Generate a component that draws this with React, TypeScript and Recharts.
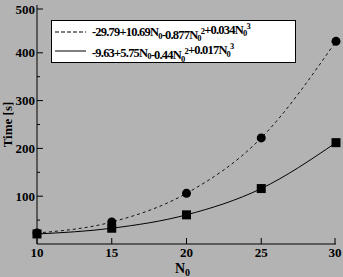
import React from "react"
import { LineChart, Line, XAxis, YAxis, Legend } from "recharts"

// values
const n0 = [10, 15, 20, 25, 30]
const fitA = [23, 46, 106, 222, 424] // dashed, circles
const fitB = [21, 33, 61, 116, 212] // solid, squares

const xTicks = [10, 15, 20, 25, 30]
const yTicks = [50, 100, 150, 200, 250, 300, 350, 400, 450, 500]
const yMajor = [100, 200, 300, 400, 500]

const data = n0.map((n, i) => ({ n, a: fitA[i], b: fitB[i] }))

const FONT = "'Liberation Serif', 'DejaVu Serif', serif"
const BG = "#b3b3b3"

const Circle = (props: any) => {
  const { cx, cy } = props
  if (cx == null || cy == null) return null
  return <circle cx={cx} cy={cy} r={4.5} fill="#000" />
}

const Square = (props: any) => {
  const { cx, cy } = props
  if (cx == null || cy == null) return null
  return <rect x={cx - 4.5} y={cy - 4.5} width={9} height={9} fill="#000" />
}

// tick renderers: tickSize/tickMargin are 0 so x,y sit on the axis line
const LeftTick = (props: any) => {
  const { x, y, payload } = props
  const major = yMajor.includes(payload.value)
  return (
    <g>
      <line x1={x} x2={x + (major ? 6 : 3)} y1={y} y2={y} stroke="#000" />
      {major && (
        <text x={x - 2} y={y + 4.5} textAnchor="end" fontSize={13} fontWeight="bold" fontFamily={FONT} fill="#000">
          {payload.value}
        </text>
      )}
    </g>
  )
}

const RightTick = (props: any) => {
  const { x, y, payload } = props
  const major = yMajor.includes(payload.value)
  return <line x1={x} x2={x - (major ? 6 : 3)} y1={y} y2={y} stroke="#000" />
}

const BottomTick = (props: any) => {
  const { x, y, payload } = props
  return (
    <g>
      <line x1={x} x2={x} y1={y} y2={y - 6} stroke="#000" />
      <text x={x} y={y + 12.5} textAnchor="middle" fontSize={13} fontWeight="bold" fontFamily={FONT} fill="#000">
        {payload.value}
      </text>
    </g>
  )
}

const TopTick = (props: any) => {
  const { x, y } = props
  return <line x1={x} x2={x} y1={y} y2={y + 6} stroke="#000" />
}

const Formula = ({ parts }: { parts: string[] }) => (
  <>
    {parts.map((p, i) => {
      if (p === "N0")
        return (
          <React.Fragment key={i}>
            <tspan>N</tspan>
            <tspan dy={2.5} fontSize={8.5}>0</tspan>
            <tspan dy={-2.5}></tspan>
          </React.Fragment>
        )
      if (p === "N02" || p === "N03")
        return (
          <React.Fragment key={i}>
            <tspan>N</tspan>
            <tspan dy={2.5} fontSize={8.5}>0</tspan>
            <tspan dy={-7.5} fontSize={8.5}>{p[2]}</tspan>
            <tspan dy={5}></tspan>
          </React.Fragment>
        )
      return <tspan key={i}>{p}</tspan>
    })}
  </>
)

const rowA = ["-29.79+10.69", "N0", "-0.877", "N02", "+0.034", "N03"]
const rowB = ["-9.63+5.75", "N0", "-0.44", "N02", "+0.017", "N03"]

const LegendBox = () => (
  <svg width={245} height={46} style={{ display: "block", overflow: "visible" }}>
    <rect x={0.5} y={0.5} width={244} height={42} fill="#fff" stroke="#000" />
    <line x1={4} x2={35} y1={12} y2={12} stroke="#000" strokeDasharray="4 2" />
    <line x1={4} x2={35} y1={31} y2={31} stroke="#000" />
    <text x={41} y={16} fontSize={12.5} fontWeight="bold" fontFamily={FONT} letterSpacing={-0.8} fill="#000">
      <Formula parts={rowA} />
    </text>
    <text x={41} y={36.5} fontSize={12.5} fontWeight="bold" fontFamily={FONT} letterSpacing={-0.8} fill="#000">
      <Formula parts={rowB} />
    </text>
  </svg>
)

export default function App() {
  return (
    <div style={{ position: "absolute", left: 0, top: 0, width: 343, height: 277, background: BG }}>
      <LineChart width={343} height={277} data={data} margin={{ top: 5, right: 7, left: 0, bottom: 0 }}>
        <XAxis
          xAxisId="bottom"
          dataKey="n"
          type="number"
          domain={[10, 30]}
          ticks={xTicks}
          height={33}
          stroke="#000"
          tickLine={false}
          tickSize={0}
          tickMargin={0}
          tick={<BottomTick />}
          label={{
            content: (p: any) => {
              const vb = p.viewBox
              return (
                <text x={vb.x + vb.width / 2 - 4} y={vb.y + 29} textAnchor="middle" fontSize={14} fontWeight="bold" fontFamily={FONT} fill="#000">
                  N<tspan dy={3} fontSize={10}>0</tspan>
                </text>
              )
            },
          }}
        />
        <XAxis
          xAxisId="top"
          orientation="top"
          dataKey="n"
          type="number"
          domain={[10, 30]}
          ticks={[15, 20, 25]}
          height={0}
          stroke="#000"
          tickLine={false}
          tickSize={0}
          tickMargin={0}
          tick={<TopTick />}
        />
        <YAxis
          yAxisId="left"
          type="number"
          domain={[0, 500]}
          ticks={yTicks}
          width={37}
          stroke="#000"
          tickLine={false}
          tickSize={0}
          tickMargin={0}
          tick={<LeftTick />}
          label={{
            content: (p: any) => {
              const vb = p.viewBox
              const cx = 7
              const cy = vb.y + vb.height / 2
              return (
                <text x={cx} y={cy} transform={`rotate(-90 ${cx} ${cy})`} textAnchor="middle" dominantBaseline="central" fontSize={13} fontWeight="bold" fontFamily={FONT} fill="#000">
                  Time [s]
                </text>
              )
            },
          }}
        />
        <YAxis
          yAxisId="right"
          orientation="right"
          type="number"
          domain={[0, 500]}
          ticks={yTicks}
          width={0}
          stroke="#000"
          tickLine={false}
          tickSize={0}
          tickMargin={0}
          tick={<RightTick />}
        />
        <Legend
          layout="vertical"
          align="center"
          verticalAlign="middle"
          content={() => <LegendBox />}
          wrapperStyle={{ position: "absolute", left: 51, top: 20, width: 245, height: 46 }}
        />
        <Line
          xAxisId="bottom"
          yAxisId="left"
          dataKey="a"
          type="monotone"
          stroke="#000"
          strokeWidth={0.9}
          strokeDasharray="3 3"
          dot={<Circle />}
          activeDot={false}
          isAnimationActive={false}
        />
        <Line
          xAxisId="bottom"
          yAxisId="left"
          dataKey="b"
          type="monotone"
          stroke="#000"
          strokeWidth={1}
          dot={<Square />}
          activeDot={false}
          isAnimationActive={false}
        />
        <Line
          xAxisId="top"
          yAxisId="right"
          dataKey="a"
          stroke="none"
          dot={false}
          activeDot={false}
          legendType="none"
          isAnimationActive={false}
        />
      </LineChart>
    </div>
  )
}
